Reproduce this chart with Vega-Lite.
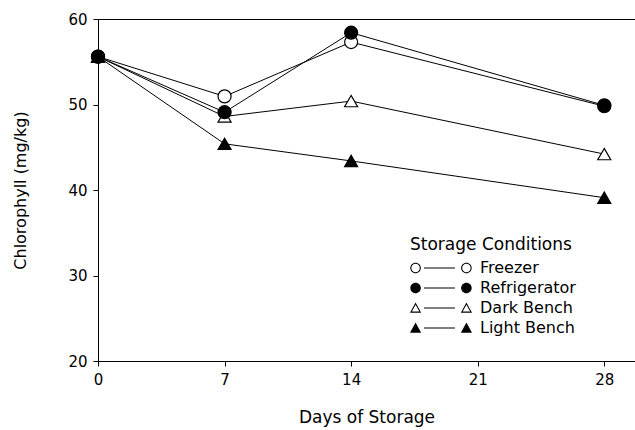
{
  "$schema": "https://vega.github.io/schema/vega-lite/v6.json",
  "width": 537,
  "height": 342,
  "autosize": {"type": "none"},
  "padding": {"left": 98, "top": 19, "right": 0, "bottom": 69},
  "background": "white",
  "config": {
    "view": {"stroke": null},
    "font": "DejaVu Sans",
    "axis": {
      "grid": false,
      "domainColor": "black",
      "domainWidth": 1,
      "tickColor": "black",
      "tickSize": 5,
      "labelColor": "black",
      "labelFont": "DejaVu Sans",
      "labelFontSize": 15,
      "titleColor": "black",
      "titleFont": "DejaVu Sans",
      "titleFontWeight": "normal"
    },
    "legend": {
      "titleFont": "DejaVu Sans",
      "labelFont": "DejaVu Sans"
    }
  },
  "data": {
    "values": [
      {"day": 0, "condition": "Freezer", "chl": 55.6},
      {"day": 7, "condition": "Freezer", "chl": 50.95},
      {"day": 14, "condition": "Freezer", "chl": 57.3},
      {"day": 28, "condition": "Freezer", "chl": 49.8},
      {"day": 0, "condition": "Dark Bench", "chl": 55.6},
      {"day": 7, "condition": "Dark Bench", "chl": 48.6},
      {"day": 14, "condition": "Dark Bench", "chl": 50.4},
      {"day": 28, "condition": "Dark Bench", "chl": 44.2},
      {"day": 0, "condition": "Light Bench", "chl": 55.6},
      {"day": 7, "condition": "Light Bench", "chl": 45.4},
      {"day": 14, "condition": "Light Bench", "chl": 43.4},
      {"day": 28, "condition": "Light Bench", "chl": 39.1},
      {"day": 0, "condition": "Refrigerator", "chl": 55.6},
      {"day": 7, "condition": "Refrigerator", "chl": 49.1},
      {"day": 14, "condition": "Refrigerator", "chl": 58.4},
      {"day": 28, "condition": "Refrigerator", "chl": 49.9}
    ]
  },
  "layer": [
    {
      "mark": {"type": "rule", "color": "black", "strokeWidth": 1, "yOffset": 0.5},
      "encoding": {"y": {"datum": 60, "type": "quantitative"}}
    },
    {
      "mark": {"type": "line", "color": "black", "strokeWidth": 1},
      "encoding": {
        "x": {
          "field": "day",
          "type": "quantitative",
          "scale": {"domain": [0, 29.7], "nice": false, "zero": false},
          "axis": {
            "values": [0, 7, 14, 21, 28],
            "title": "Days of Storage",
            "titleFontSize": 17,
            "titlePadding": 22,
            "labelPadding": 6,
            "labelFlush": false
          }
        },
        "y": {
          "field": "chl",
          "type": "quantitative",
          "scale": {"domain": [20, 60], "nice": false, "zero": false},
          "axis": {
            "values": [20, 30, 40, 50, 60],
            "title": "Chlorophyll (mg/kg)",
            "titleFontSize": 16,
            "titlePadding": 39,
            "labelPadding": 6
          }
        },
        "detail": {"field": "condition", "type": "nominal"}
      }
    },
    {
      "mark": {"type": "point", "filled": true, "stroke": "black", "strokeWidth": 1.2, "size": 170, "opacity": 1},
      "encoding": {
        "x": {"field": "day", "type": "quantitative"},
        "y": {"field": "chl", "type": "quantitative"},
        "shape": {
          "field": "condition",
          "type": "nominal",
          "scale": {
            "domain": ["Freezer", "Refrigerator", "Dark Bench", "Light Bench"],
            "range": ["circle", "circle", "triangle-up", "triangle-up"]
          },
          "legend": null
        },
        "fill": {
          "field": "condition",
          "type": "nominal",
          "scale": {
            "domain": ["Freezer", "Refrigerator", "Dark Bench", "Light Bench"],
            "range": ["white", "black", "white", "black"]
          },
          "legend": null
        }
      }
    },
    {
      "transform": [{"filter": "false"}],
      "mark": {"type": "point", "filled": true, "color": "black", "opacity": 1},
      "encoding": {
        "shape": {
          "field": "condition",
          "type": "nominal",
          "scale": {
            "domain": ["Freezer", "Refrigerator", "Dark Bench", "Light Bench"],
            "range": [
              "M -0.99 0 A 0.17 0.17 0 1 1 -0.65 0 A 0.17 0.17 0 1 1 -0.99 0 Z M -0.956 0 A 0.136 0.136 0 1 0 -0.684 0 A 0.136 0.136 0 1 0 -0.956 0 Z M -0.55 -0.017 L 0.45 -0.017 L 0.45 0.017 L -0.55 0.017 Z M 0.65 0 A 0.17 0.17 0 1 1 0.99 0 A 0.17 0.17 0 1 1 0.65 0 Z M 0.684 0 A 0.136 0.136 0 1 0 0.956 0 A 0.136 0.136 0 1 0 0.684 0 Z",
              "M -0.99 0 A 0.17 0.17 0 1 1 -0.65 0 A 0.17 0.17 0 1 1 -0.99 0 Z M -0.55 -0.017 L 0.45 -0.017 L 0.45 0.017 L -0.55 0.017 Z M 0.65 0 A 0.17 0.17 0 1 1 0.99 0 A 0.17 0.17 0 1 1 0.65 0 Z",
              "M -0.82 -0.18 L -0.64 0.15 L -1 0.15 Z M -0.82 -0.107 L -0.941 0.115 L -0.699 0.115 Z M -0.55 -0.017 L 0.45 -0.017 L 0.45 0.017 L -0.55 0.017 Z M 0.82 -0.18 L 1 0.15 L 0.64 0.15 Z M 0.82 -0.107 L 0.699 0.115 L 0.941 0.115 Z",
              "M -0.82 -0.18 L -0.64 0.15 L -1 0.15 Z M -0.55 -0.017 L 0.45 -0.017 L 0.45 0.017 L -0.55 0.017 Z M 0.82 -0.18 L 1 0.15 L 0.64 0.15 Z"
            ]
          },
          "legend": {
            "title": "Storage Conditions",
            "orient": "none",
            "legendX": 312,
            "legendY": 218,
            "titleFontSize": 17,
            "titleFontWeight": "normal",
            "titleColor": "black",
            "titlePadding": 5,
            "labelFontSize": 16,
            "labelColor": "black",
            "labelOffset": 8,
            "symbolSize": 3844,
            "symbolStrokeWidth": 0,
            "symbolFillColor": "black",
            "clipHeight": 18,
            "rowPadding": 2
          }
        }
      }
    }
  ],
  "resolve": {"scale": {"shape": "independent", "fill": "independent"}}
}
